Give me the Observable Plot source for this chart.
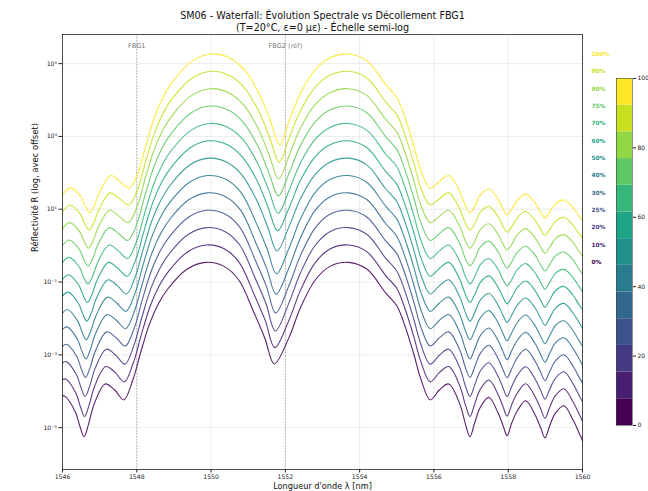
<!DOCTYPE html>
<html><head><meta charset="utf-8">
<script src="https://cdn.jsdelivr.net/npm/d3@7"></script>
<script src="https://cdn.jsdelivr.net/npm/@observablehq/plot@0.6"></script>
<style>
html,body{margin:0;padding:0;background:#fff;}
#wrap{position:relative;width:648px;height:491px;overflow:hidden;}
#cbar{position:absolute;left:600px;top:60px;}
</style></head>
<body><div id="wrap"><div id="main"></div><div id="cbar"></div></div>
<script>
// ---- data ----
const percents = [0,10,20,25,30,40,50,60,70,75,80,90,100];
const offsets  = [1,3,9,27,81,243,729,2187,6561,19683,59049,177147,531441];
// shift (nm) of the left half of each spectrum
const leftShiftNm = [-0.15,-0.135,-0.12,-0.11,-0.10,-0.09,-0.075,-0.06,-0.045,-0.04,-0.03,-0.015,0];
// log10 R at the left edge (1546 nm)
const edgeLogR = [-4.12,-4.16,-4.18,-4.20,-4.21,-4.24,-4.25,-4.27,-4.28,-4.29,-4.31,-4.32,-4.33];
// wavelength grid (nm); first 21 points belong to the left half
const gridNm = [1546.22,1546.5,1546.62,1546.73,1546.85,1547.0,1547.3,1547.55,1547.8,1548.05,
 1548.25,1548.5,1548.75,1549.0,1549.5,1550.0,1550.5,1550.9,1551.3,1551.6,
 1551.85,1552.1,1552.4,1552.8,1553.2,1553.7,1554.2,1554.7,1555.0,1555.2,
 1555.45,1555.65,1555.9,1556.15,1556.4,1556.7,1556.85,1556.97,1557.1,1557.25,
 1557.48,1557.72,1557.86,1557.97,1558.1,1558.25,1558.47,1558.72,1558.87,1558.99,
 1559.12,1559.27,1559.5,1559.75,1559.88,1560.0];
// log10 R (before offset) per décollement level
const logR_0 = [-4.14,-4.58,-4.97,-5.25,-4.91,-4.36,-3.80,-3.96,-4.24,-3.67,
 -2.95,-2.13,-1.56,-1.17,-0.65,-0.46,-0.57,-0.95,-1.83,-2.55,
 -3.25,-2.52,-1.72,-0.95,-0.57,-0.46,-0.65,-1.30,-1.65,-2.15,
 -2.95,-3.67,-4.24,-3.96,-3.80,-4.36,-4.91,-5.25,-4.86,-4.44,
 -4.17,-4.58,-4.94,-5.22,-4.86,-4.53,-4.26,-4.64,-4.99,-5.28,
 -4.94,-4.60,-4.40,-4.80,-5.08,-5.36];
const logR_10 = [-4.14,-4.54,-4.91,-5.17,-4.86,-4.34,-3.80,-3.96,-4.22,-3.67,
 -2.95,-2.13,-1.56,-1.17,-0.65,-0.46,-0.57,-0.95,-1.83,-2.55,
 -3.28,-2.52,-1.72,-0.95,-0.57,-0.46,-0.65,-1.30,-1.65,-2.15,
 -2.95,-3.67,-4.22,-3.96,-3.80,-4.34,-4.86,-5.17,-4.82,-4.42,
 -4.17,-4.55,-4.90,-5.16,-4.83,-4.52,-4.27,-4.62,-4.95,-5.22,
 -4.91,-4.60,-4.41,-4.78,-5.04,-5.30];
const logR_20 = [-4.14,-4.51,-4.86,-5.10,-4.82,-4.32,-3.80,-3.96,-4.21,-3.67,
 -2.95,-2.13,-1.56,-1.17,-0.65,-0.46,-0.57,-0.95,-1.83,-2.55,
 -3.30,-2.52,-1.72,-0.95,-0.57,-0.46,-0.65,-1.30,-1.65,-2.15,
 -2.95,-3.67,-4.21,-3.96,-3.80,-4.32,-4.82,-5.10,-4.78,-4.40,
 -4.17,-4.53,-4.86,-5.10,-4.81,-4.51,-4.28,-4.61,-4.92,-5.17,
 -4.89,-4.60,-4.42,-4.76,-5.01,-5.25];
const logR_25 = [-4.14,-4.49,-4.83,-5.05,-4.79,-4.31,-3.80,-3.96,-4.19,-3.67,
 -2.95,-2.13,-1.56,-1.17,-0.65,-0.46,-0.57,-0.95,-1.83,-2.55,
 -3.28,-2.52,-1.72,-0.95,-0.57,-0.46,-0.65,-1.30,-1.65,-2.15,
 -2.95,-3.67,-4.19,-3.96,-3.80,-4.31,-4.79,-5.05,-4.76,-4.39,
 -4.17,-4.52,-4.84,-5.06,-4.80,-4.50,-4.28,-4.60,-4.90,-5.14,
 -4.88,-4.60,-4.43,-4.75,-4.99,-5.21];
const logR_30 = [-4.14,-4.48,-4.80,-5.02,-4.76,-4.30,-3.80,-3.96,-4.19,-3.67,
 -2.95,-2.13,-1.56,-1.17,-0.65,-0.46,-0.57,-0.94,-1.82,-2.54,
 -3.24,-2.51,-1.71,-0.94,-0.57,-0.46,-0.65,-1.30,-1.65,-2.15,
 -2.95,-3.67,-4.19,-3.96,-3.80,-4.30,-4.76,-5.02,-4.74,-4.38,
 -4.17,-4.50,-4.82,-5.04,-4.78,-4.50,-4.29,-4.59,-4.89,-5.11,
 -4.86,-4.58,-4.44,-4.74,-4.97,-5.19];
const logR_40 = [-4.14,-4.46,-4.77,-4.97,-4.73,-4.29,-3.80,-3.96,-4.19,-3.67,
 -2.95,-2.13,-1.56,-1.17,-0.65,-0.46,-0.57,-0.93,-1.75,-2.48,
 -3.16,-2.45,-1.67,-0.93,-0.57,-0.46,-0.65,-1.30,-1.65,-2.15,
 -2.95,-3.67,-4.19,-3.96,-3.80,-4.29,-4.73,-4.97,-4.72,-4.37,
 -4.17,-4.49,-4.80,-5.00,-4.77,-4.49,-4.29,-4.58,-4.87,-5.08,
 -4.85,-4.58,-4.45,-4.73,-4.95,-5.15];
const logR_50 = [-4.14,-4.44,-4.74,-4.94,-4.71,-4.28,-3.80,-3.96,-4.19,-3.67,
 -2.95,-2.13,-1.56,-1.17,-0.65,-0.46,-0.57,-0.91,-1.61,-2.35,
 -3.01,-2.34,-1.59,-0.91,-0.57,-0.46,-0.65,-1.30,-1.65,-2.15,
 -2.95,-3.67,-4.19,-3.96,-3.80,-4.28,-4.71,-4.94,-4.70,-4.36,
 -4.17,-4.48,-4.78,-4.97,-4.76,-4.49,-4.30,-4.57,-4.85,-5.05,
 -4.84,-4.58,-4.45,-4.72,-4.93,-5.13];
const logR_60 = [-4.14,-4.43,-4.72,-4.90,-4.69,-4.27,-3.80,-3.96,-4.18,-3.67,
 -2.95,-2.13,-1.56,-1.17,-0.65,-0.46,-0.57,-0.90,-1.56,-2.30,
 -2.93,-2.30,-1.56,-0.90,-0.57,-0.46,-0.65,-1.30,-1.65,-2.15,
 -2.95,-3.67,-4.18,-3.96,-3.80,-4.27,-4.69,-4.90,-4.68,-4.35,
 -4.17,-4.47,-4.76,-4.94,-4.75,-4.48,-4.31,-4.57,-4.84,-5.03,
 -4.83,-4.58,-4.46,-4.71,-4.92,-5.10];
const logR_70 = [-4.14,-4.41,-4.70,-4.87,-4.67,-4.26,-3.80,-3.96,-4.17,-3.67,
 -2.95,-2.13,-1.56,-1.17,-0.65,-0.46,-0.57,-0.90,-1.56,-2.30,
 -2.93,-2.30,-1.56,-0.90,-0.57,-0.46,-0.65,-1.30,-1.65,-2.15,
 -2.95,-3.67,-4.17,-3.96,-3.80,-4.26,-4.67,-4.87,-4.67,-4.34,
 -4.17,-4.46,-4.75,-4.92,-4.74,-4.47,-4.31,-4.56,-4.82,-5.01,
 -4.82,-4.58,-4.47,-4.70,-4.90,-5.08];
const logR_75 = [-4.14,-4.41,-4.68,-4.85,-4.66,-4.25,-3.80,-3.96,-4.15,-3.67,
 -2.95,-2.13,-1.56,-1.17,-0.65,-0.46,-0.57,-0.90,-1.56,-2.30,
 -2.93,-2.30,-1.56,-0.90,-0.57,-0.46,-0.65,-1.30,-1.65,-2.15,
 -2.95,-3.67,-4.15,-3.96,-3.80,-4.25,-4.66,-4.85,-4.66,-4.33,
 -4.17,-4.45,-4.74,-4.91,-4.73,-4.47,-4.31,-4.55,-4.82,-4.99,
 -4.81,-4.58,-4.47,-4.69,-4.90,-5.07];
const logR_80 = [-4.14,-4.40,-4.67,-4.84,-4.65,-4.25,-3.80,-3.96,-4.14,-3.67,
 -2.95,-2.13,-1.56,-1.17,-0.65,-0.46,-0.57,-0.90,-1.56,-2.30,
 -2.94,-2.30,-1.56,-0.90,-0.57,-0.46,-0.65,-1.30,-1.65,-2.15,
 -2.95,-3.67,-4.14,-3.96,-3.80,-4.25,-4.65,-4.84,-4.65,-4.33,
 -4.17,-4.45,-4.73,-4.89,-4.73,-4.47,-4.31,-4.55,-4.81,-4.98,
 -4.81,-4.58,-4.47,-4.69,-4.89,-5.05];
const logR_90 = [-4.14,-4.39,-4.66,-4.82,-4.64,-4.25,-3.80,-3.96,-4.13,-3.67,
 -2.95,-2.13,-1.56,-1.17,-0.65,-0.46,-0.57,-0.90,-1.56,-2.30,
 -2.96,-2.30,-1.56,-0.90,-0.57,-0.46,-0.65,-1.30,-1.65,-2.15,
 -2.95,-3.67,-4.13,-3.96,-3.80,-4.25,-4.64,-4.82,-4.64,-4.33,
 -4.17,-4.44,-4.72,-4.88,-4.72,-4.47,-4.31,-4.55,-4.80,-4.97,
 -4.80,-4.58,-4.47,-4.69,-4.88,-5.04];
const logR_100 = [-4.14,-4.39,-4.66,-4.82,-4.64,-4.25,-3.80,-3.96,-4.15,-3.67,
 -2.95,-2.13,-1.56,-1.17,-0.65,-0.46,-0.57,-0.90,-1.56,-2.30,
 -2.96,-2.30,-1.56,-0.90,-0.57,-0.46,-0.65,-1.30,-1.65,-2.15,
 -2.95,-3.67,-4.15,-3.96,-3.80,-4.25,-4.64,-4.82,-4.64,-4.33,
 -4.17,-4.44,-4.72,-4.88,-4.72,-4.47,-4.31,-4.55,-4.80,-4.97,
 -4.80,-4.58,-4.47,-4.69,-4.88,-5.04];
const spectra = [logR_0,logR_10,logR_20,logR_25,logR_30,logR_40,logR_50,logR_60,logR_70,logR_75,logR_80,logR_90,logR_100];

const xTicks = [1546,1548,1550,1552,1554,1556,1558,1560];
const yTicks = [1e-5,1e-3,1e-1,1e1,1e3,1e5];
const fbgMarkers = [{x:1548, label:"FBG1"},{x:1552, label:"FBG2 (réf)"}];
const cbarTicks = [0,20,40,60,80,100];

// ---- build table ----
const colors = percents.map((p,k) => d3.interpolateViridis(k/(percents.length-1)));
const rows = [];
spectra.forEach((s,k) => {
  rows.push({lambda:1546, R: Math.pow(10, edgeLogR[k]) * offsets[k], k});
  s.forEach((v,i) => rows.push({lambda: gridNm[i] + (i <= 20 ? leftShiftNm[k] : 0), R: Math.pow(10, v) * offsets[k], k}));
});
const labels = percents.map((p,k) => ({
  lambda: 1560,
  R: d3.max(rows.filter(r => r.k === k), r => r.R),
  text: p + "%", k
}));
const sup = {"-":"⁻","0":"⁰","1":"¹","2":"²","3":"³","4":"⁴","5":"⁵","6":"⁶","7":"⁷","8":"⁸","9":"⁹"};
const fmtPow = d => "10" + String(Math.round(Math.log10(d))).split("").map(c => sup[c]).join("");
const FONT = "DejaVu Sans, sans-serif";

const main = Plot.plot({
  width: 648, height: 491,
  marginTop: 34, marginBottom: 22, marginLeft: 62, marginRight: 66,
  style: {fontFamily: FONT, fontSize: "6.2px", color: "#222", background: "white"},
  x: {domain: [1546,1560], ticks: xTicks, tickFormat: d => String(d), label: null, tickSize: 3.5, tickPadding: 2},
  y: {type: "log", domain: [Math.pow(10,-6.15), Math.pow(10,5.8)], ticks: yTicks, tickFormat: fmtPow, label: null, tickSize: 3.5, tickPadding: 2},
  color: {type: "identity"},
  marks: [
    Plot.ruleX(xTicks, {stroke: "#e4e4e4", strokeWidth: 0.7}),
    Plot.ruleY(yTicks, {stroke: "#e4e4e4", strokeWidth: 0.7}),
    Plot.ruleX(fbgMarkers, {x: "x", stroke: "#9a9a9a", strokeWidth: 0.8, strokeDasharray: "1.5,1.5"}),
    Plot.line(rows, {x: "lambda", y: "R", z: "k", stroke: d => colors[d.k], curve: "catmull-rom", strokeWidth: 1.1, strokeOpacity: 0.88}),
    Plot.text(fbgMarkers, {x: "x", text: "label", frameAnchor: "top", dy: 9, fill: "#777", fontSize: 6.6}),
    Plot.text(labels, {x: "lambda", y: "R", text: "text", fill: d => colors[d.k], dx: 9, textAnchor: "start", fontWeight: "bold", fontSize: 5.8}),
    Plot.frame({stroke: "#222", strokeWidth: 0.8}),
    Plot.text(["SM06 - Waterfall: Évolution Spectrale vs Décollement FBG1"], {frameAnchor: "top", dy: -19, lineAnchor: "middle", fontSize: 9.6, fill: "#111"}),
    Plot.text(["(T=20°C, ε=0 με) - Échelle semi-log"], {frameAnchor: "top", dy: -7, lineAnchor: "middle", fontSize: 9.6, fill: "#111"}),
    Plot.text(["Longueur d'onde λ [nm]"], {frameAnchor: "bottom", dy: 17, lineAnchor: "middle", fontSize: 8.2, fill: "#111"}),
    Plot.text(["Réflectivité R (log, avec offset)"], {frameAnchor: "left", dx: -27, rotate: -90, lineAnchor: "middle", fontSize: 8.4, fill: "#111"})
  ]
});
document.getElementById("main").appendChild(main);

const bands = percents.map((p,k) => ({x1: 0, x2: 1, y1: k*100/percents.length, y2: (k+1)*100/percents.length, fill: colors[k]}));
const cbar = Plot.plot({
  width: 48, height: 380,
  marginLeft: 16, marginRight: 16, marginTop: 18, marginBottom: 15,
  style: {fontFamily: FONT, fontSize: "6px", color: "#222", background: "transparent", overflow: "visible"},
  x: {domain: [0,1], axis: null},
  y: {domain: [0,100], ticks: cbarTicks, axis: "right", label: null, tickSize: 3, tickPadding: 2},
  color: {type: "identity"},
  marks: [
    Plot.rect(bands, {x1: "x1", x2: "x2", y1: "y1", y2: "y2", fill: "fill"}),
    Plot.frame({stroke: "#444", strokeWidth: 0.6})
  ]
});
document.getElementById("cbar").appendChild(cbar);
</script>
</body></html>
